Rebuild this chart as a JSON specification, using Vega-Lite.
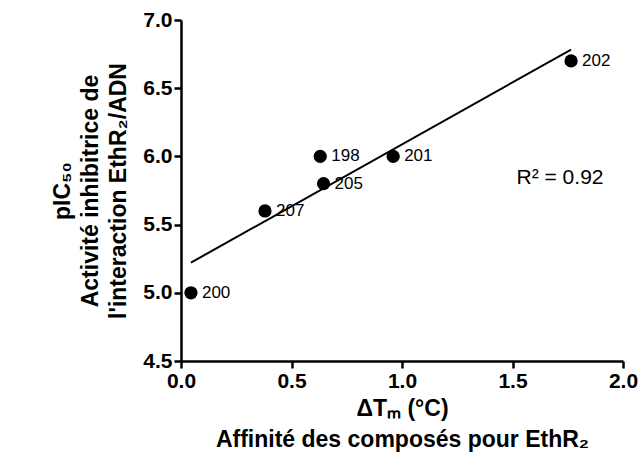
{
  "$schema": "https://vega.github.io/schema/vega-lite/v6.json",
  "autosize": "none",
  "width": 442,
  "height": 341,
  "padding": {"left": 181, "top": 20, "right": 18, "bottom": 102},
  "background": "white",
  "config": {
    "view": {"stroke": null},
    "font": "Liberation Sans",
    "axis": {
      "grid": false,
      "domainColor": "black",
      "domainWidth": 2.5,
      "tickColor": "black",
      "tickWidth": 2.5,
      "tickSize": 7,
      "labelFont": "Liberation Sans",
      "labelFontSize": 21,
      "labelFontWeight": "bold",
      "labelColor": "black",
      "labelFlush": false,
      "labelOverlap": false,
      "titleFont": "Liberation Sans",
      "titleFontSize": 23,
      "titleFontWeight": "bold",
      "titleColor": "black"
    }
  },
  "data": {
    "values": [
      {"x": 0.045, "y": 5.0, "label": "200"},
      {"x": 0.38, "y": 5.6, "label": "207"},
      {"x": 0.63, "y": 6.0, "label": "198"},
      {"x": 0.645, "y": 5.8, "label": "205"},
      {"x": 0.96, "y": 6.0, "label": "201"},
      {"x": 1.765, "y": 6.7, "label": "202"}
    ]
  },
  "layer": [
    {
      "transform": [{"regression": "y", "on": "x"}],
      "mark": {"type": "line", "color": "black", "strokeWidth": 2},
      "encoding": {
        "x": {"field": "x", "type": "quantitative"},
        "y": {"field": "y", "type": "quantitative"}
      }
    },
    {
      "mark": {"type": "circle", "color": "black", "opacity": 1, "size": 175},
      "encoding": {
        "x": {
          "field": "x", "type": "quantitative",
          "scale": {"domain": [0, 2], "nice": false, "zero": false},
          "axis": {
            "values": [0, 0.5, 1, 1.5, 2],
            "format": ".1f",
            "labelPadding": 2,
            "title": ["ΔTₘ (°C)", "Affinité des composés pour EthR₂"],
            "titlePadding": 6,
            "titleLineHeight": 31
          }
        },
        "y": {
          "field": "y", "type": "quantitative",
          "scale": {"domain": [4.5, 7], "nice": false, "zero": false},
          "axis": {
            "values": [4.5, 5, 5.5, 6, 6.5, 7],
            "format": ".1f",
            "labelPadding": 2,
            "title": ["pIC₅₀", "Activité inhibitrice de", "l'interaction EthR₂/ADN"],
            "titlePadding": 12,
            "titleLineHeight": 28
          }
        }
      }
    },
    {
      "mark": {"type": "text", "align": "left", "dx": 11, "fontSize": 17, "color": "black", "font": "Liberation Sans"},
      "encoding": {
        "x": {"field": "x", "type": "quantitative"},
        "y": {"field": "y", "type": "quantitative"},
        "text": {"field": "label"}
      }
    },
    {
      "data": {"values": [{"x": 1.715, "y": 5.84, "t": "R² = 0.92"}]},
      "mark": {"type": "text", "align": "center", "fontSize": 21, "color": "black", "font": "Liberation Sans"},
      "encoding": {
        "x": {"field": "x", "type": "quantitative"},
        "y": {"field": "y", "type": "quantitative"},
        "text": {"field": "t"}
      }
    }
  ]
}
